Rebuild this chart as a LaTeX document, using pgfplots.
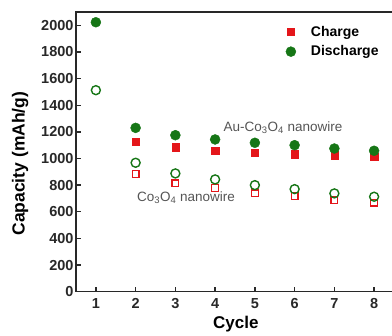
\documentclass[border=0pt]{standalone}
\usepackage{fontspec}
\setmainfont{Liberation Sans}
\usepackage{pgfplots}
\pgfplotsset{compat=1.18}
\definecolor{cred}{RGB}{228,22,26}
\definecolor{cgreen}{RGB}{22,118,22}
\definecolor{axgray}{RGB}{40,40,40}
\definecolor{anngray}{RGB}{85,85,85}
\begin{document}
\begin{tikzpicture}
\begin{axis}[
  scale only axis, width=316pt, height=279.7pt,
  xmin=0.5, xmax=8.45, ymin=0, ymax=2100,
  xtick={1,2,3,4,5,6,7,8}, ytick={0,200,...,2000},
  tick align=inside, xtick pos=bottom, ytick pos=left,
  axis line style={draw=none},
  major tick length=5pt,
  tick style={axgray, line width=1.3pt},
  /pgf/number format/assume math mode=true,
  /pgf/number format/set thousands separator={},
  ticklabel style={font=\bfseries\fontsize{14.5}{15}\selectfont, text=axgray},
  yticklabel style={xshift=1pt},
  xticklabel style={yshift=-3pt},
  xlabel={Cycle}, ylabel={Capacity (mAh/g)},
  xlabel style={font=\bfseries\fontsize{17}{17}\selectfont, at={(axis description cs:0.506,-0.133)}, anchor=base},
  ylabel style={font=\bfseries\fontsize{17.5}{17.5}\selectfont, at={(axis description cs:-0.177,0.458)}, anchor=center},
  legend style={draw=none, fill=none, inner sep=0pt, at={(axis cs:5.7,2010)}, anchor=north west,
    font=\bfseries\fontsize{14}{14}\selectfont, row sep=4pt},
  legend image code/.code={\draw[#1] plot coordinates {(8pt,0pt)}; \path[draw=none,fill=none] (0pt,-3pt) rectangle (26pt,3pt);},
  legend cell align=left,
  after end axis/.code={\draw[axgray, line width=1.5pt] (rel axis cs:1.02,1) -- (rel axis cs:0,1) -- (rel axis cs:0,0) -- (rel axis cs:1.02,0);},
  clip=false
]
% Au-Co3O4 nanowire (filled)
\addplot[only marks, mark=square*, mark size=3.6pt, color=cred] coordinates {
 (2,1125) (3,1085) (4,1058) (5,1043) (6,1033) (7,1025) (8,1015)};
\addlegendentry{Charge}
\addplot[only marks, mark=*, mark size=5pt, color=cgreen] coordinates {
 (1,2023) (2,1230) (3,1175) (4,1143) (5,1118) (6,1100) (7,1075) (8,1058)};
\addlegendentry{Discharge}
% Co3O4 nanowire (open)
\addplot[only marks, mark=square, mark size=3.4pt, color=cred, line width=1.3pt, forget plot] coordinates {
 (2,883) (3,813) (4,780) (5,738) (6,718) (7,688) (8,668)};
\addplot[only marks, mark=o, mark size=4.5pt, color=cgreen, line width=1.4pt, forget plot] coordinates {
 (1,1513) (2,968) (3,888) (4,843) (5,800) (6,770) (7,738) (8,713)};
\node[font=\fontsize{13.5}{13.5}\selectfont, text=anngray] at (axis cs:5.71,1233) {Au-Co\textsubscript{3}O\textsubscript{4} nanowire};
\node[font=\fontsize{13.5}{13.5}\selectfont, text=anngray] at (axis cs:3.27,703) {Co\textsubscript{3}O\textsubscript{4} nanowire};
\coordinate (ll) at (rel axis cs:0,0);
\coordinate (ur) at (rel axis cs:1,1);
\end{axis}
\pgfresetboundingbox
\path ([xshift=-76pt,yshift=-44.3pt]ll) rectangle ([yshift=12pt]ur);
\end{tikzpicture}
\end{document}
